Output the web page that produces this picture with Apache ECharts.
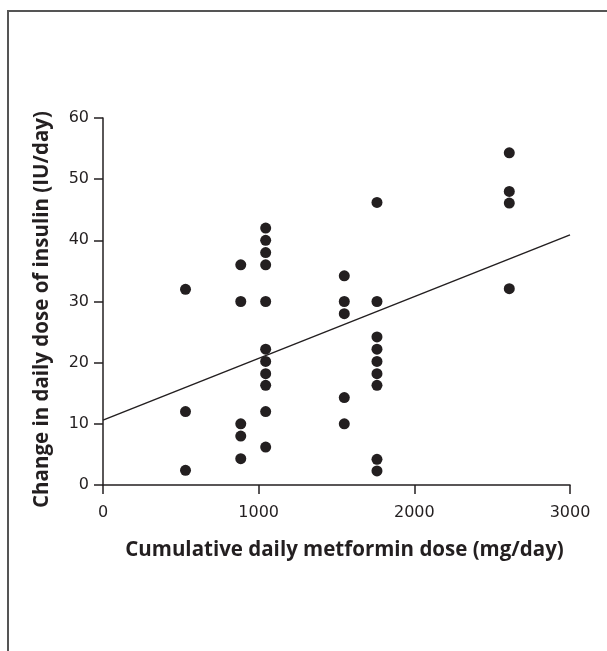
<!DOCTYPE html>
<html>
<head>
<meta charset="utf-8">
<script src="https://cdn.jsdelivr.net/npm/echarts@6/dist/echarts.min.js"></script>
<style>html,body{margin:0;padding:0;background:#fff;}#c{width:607px;height:651px;}</style>
</head>
<body>
<div id="c"></div>
<script>
const xTicks = [0, 1000, 2000, 3000];
const yTicks = [0, 10, 20, 30, 40, 50, 60];
const xTitle = 'Cumulative daily metformin dose (mg/day)';
const yTitle = 'Change in daily dose of insulin (IU/day)';
// patient points: metformin dose (mg/day), change in insulin (IU/day)
const doses = [530,530,530, 885,885,885,885,885,
  1045,1045,1045,1045,1045,1045,1045,1045,1045,1045,1045,
  1550,1550,1550,1550,1550,
  1760,1760,1760,1760,1760,1760,1760,1760,1760,
  2610,2610,2610,2610];
const insulinChange = [32,12,2.4, 36,30,10,8,4.3,
  42,40,38,36,30,22.2,20.2,18.2,16.3,12,6.2,
  34.2,30,28,14.3,10,
  46.2,30,24.2,22.2,20.2,18.2,16.3,4.2,2.3,
  54.3,48,46.1,32.1];
// regression line endpoints
const fitX = [0, 3000];
const fitY = [10.6, 40.9];

const ink = '#231f20';
const chart = echarts.init(document.getElementById('c'), null, {renderer:'canvas'});
chart.setOption({
  animation: false,
  backgroundColor: '#fff',
  graphic: [{
    type: 'rect', z: -10,
    shape: {x: 8, y: 11, width: 640, height: 700},
    style: {fill: 'none', stroke: '#555', lineWidth: 2}
  }],
  grid: {left: 103, right: 37, top: 118, bottom: 166},
  xAxis: {
    type: 'value', min: xTicks[0], max: xTicks[xTicks.length-1], interval: 1000,
    name: xTitle, nameLocation: 'middle', nameGap: 55,
    nameTextStyle: {fontFamily: 'Open Sans', fontWeight: 'bold', fontSize: 20.5, color: ink, padding: [0,0,0,16]},
    axisLine: {lineStyle: {color: ink, width: 1.5}},
    axisTick: {inside: false, length: 9, lineStyle: {color: ink, width: 1.5}},
    axisLabel: {fontFamily: 'DejaVu Sans', fontSize: 16, color: ink, margin: 20, formatter: v => String(v)},
    splitLine: {show: false}
  },
  yAxis: {
    type: 'value', min: yTicks[0], max: yTicks[yTicks.length-1], interval: 10,
    name: yTitle, nameLocation: 'middle', nameGap: 50,
    nameTextStyle: {fontFamily: 'Open Sans', fontWeight: 'bold', fontSize: 20.5, color: ink, padding: [0,16,0,0]},
    axisLine: {lineStyle: {color: ink, width: 1.5}},
    axisTick: {inside: false, length: 9, lineStyle: {color: ink, width: 1.5}},
    axisLabel: {fontFamily: 'DejaVu Sans', fontSize: 16, color: ink, margin: 14, formatter: v => String(v)},
    splitLine: {show: false}
  },
  series: [{
    type: 'line', data: fitX.map((x,i)=>[x, fitY[i]]), showSymbol: false,
    lineStyle: {color: ink, width: 1.5}, z: 2
  }, {
    type: 'scatter', data: doses.map((d,i)=>[d, insulinChange[i]]),
    symbolSize: 11, itemStyle: {color: ink, opacity: 1}, z: 3
  }]
});
</script>
</body>
</html>
